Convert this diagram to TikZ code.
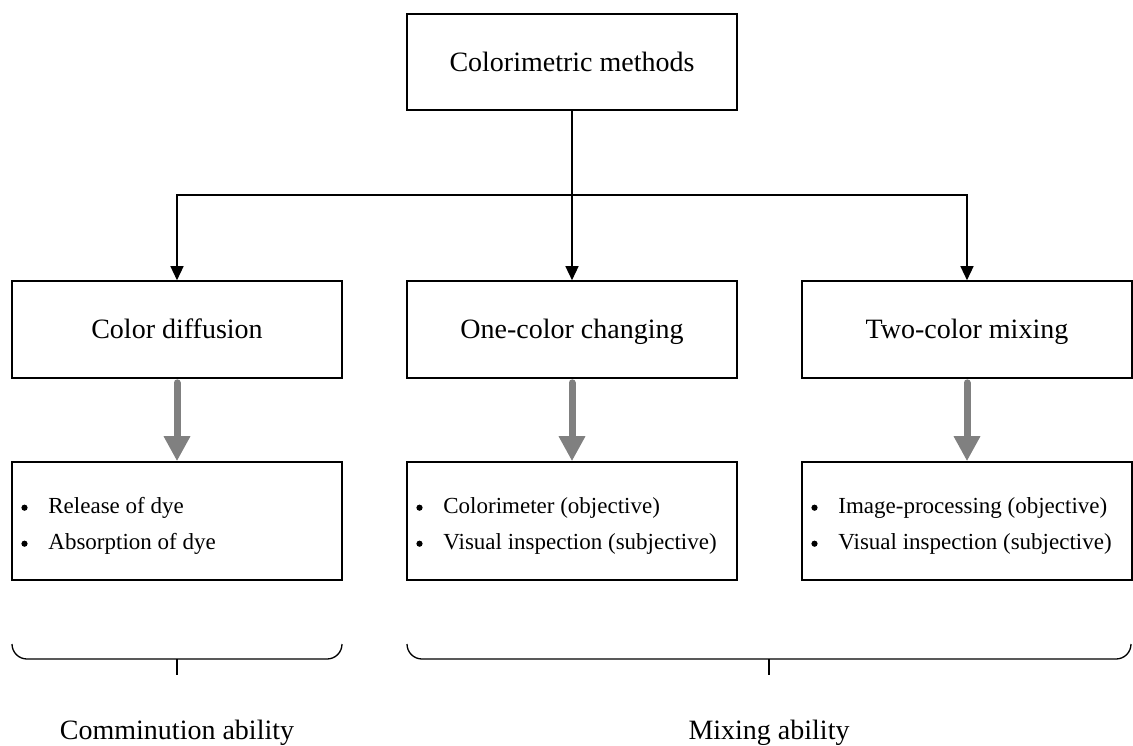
\documentclass[tikz,border=0pt]{standalone}
\usepackage{fontspec}
\setmainfont{Liberation Serif}
\usetikzlibrary{arrows.meta,calc}
\definecolor{arrowgray}{RGB}{128,128,128}
\newcommand{\bul}{\makebox[28pt][l]{\hspace{1pt}\raisebox{2.4pt}{\tikz\fill (0,0) circle (3.1pt);}}}
\begin{document}
\begin{tikzpicture}[x=1pt,y=-1pt,
  box/.style={draw=black, line width=1.6pt, fill=white, inner sep=0pt,
    minimum width=330pt, text height=20pt, text depth=2pt,
    font=\fontsize{28}{34}\selectfont},
  headbox/.style={box, minimum height=96pt},
  midbox/.style={box, minimum height=97pt},
  listbox/.style={box, minimum height=118pt},
  item/.style={anchor=base west, inner sep=0pt, font=\fontsize{23}{30}\selectfont},
  conn/.style={draw=black, line width=1.4pt},
  connarrow/.style={conn, -{Triangle[length=14pt,width=13pt]}},
  grayarrow/.style={draw=arrowgray, line width=7pt, line cap=round,
    shorten <=4pt, -{Triangle[length=25pt,width=25pt]}},
  bracestyle/.style={draw=black, line width=1.3pt},
  label/.style={anchor=base, inner sep=0pt, font=\fontsize{28}{34}\selectfont}]
\useasboundingbox (0,0) rectangle (1133,745);

% boxes
\node[headbox] (top) at (572,62) {Colorimetric methods};
\node[midbox] (b1) at (177,329.5) {Color diffusion};
\node[midbox] (b2) at (572,329.5) {One-color changing};
\node[midbox] (b3) at (967,329.5) {Two-color mixing};
\node[listbox] (c1) at (177,521) {};
\node[listbox] (c2) at (572,521) {};
\node[listbox] (c3) at (967,521) {};

% list items
\node[item] (c1a) at ($(c1.north west)+(9,52)$) {\bul Release of dye};
\node[item] (c1b) at ($(c1.north west)+(9,88)$) {\bul Absorption of dye};
\node[item] (c2a) at ($(c2.north west)+(9,52)$) {\bul Colorimeter (objective)};
\node[item] (c2b) at ($(c2.north west)+(9,88)$) {\bul Visual inspection (subjective)};
\node[item] (c3a) at ($(c3.north west)+(9,52)$) {\bul Image-processing (objective)};
\node[item] (c3b) at ($(c3.north west)+(9,88)$) {\bul Visual inspection (subjective)};

% tree connectors
\coordinate (j) at (572,195);
\draw[conn] (top.south) -- (j);
\draw[connarrow] (j) -- (b2.north);
\draw[connarrow] (j) -| (b1.north);
\draw[connarrow] (j) -| (b3.north);

% gray arrows
\draw[grayarrow] (b1.south) -- (c1.north);
\draw[grayarrow] (b2.south) -- (c2.north);
\draw[grayarrow] (b3.south) -- (c3.north);

% braces
\draw[bracestyle] (12,644) to[out=-90,in=180] (27,659) -- (327,659) to[out=0,in=-90] (342,644);
\coordinate (t1) at (177,659);
\coordinate (t1e) at (177,675);
\draw[bracestyle] (t1) -- (t1e);
\draw[bracestyle] (407,644) to[out=-90,in=180] (422,659) -- (1116,659) to[out=0,in=-90] (1131,644);
\coordinate (t2) at (769,659);
\coordinate (t2e) at (769,675);
\draw[bracestyle] (t2) -- (t2e);

% labels
\node[label] (l1) at (177,739) {Comminution ability};
\node[label] (l2) at (769,739) {Mixing ability};
\end{tikzpicture}
\end{document}
